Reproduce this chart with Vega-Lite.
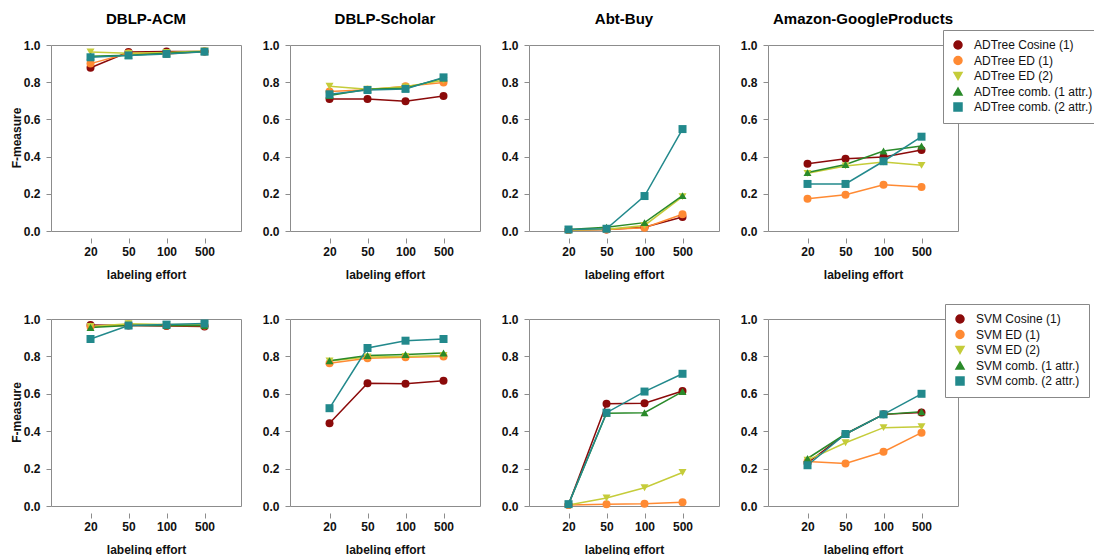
{
  "$schema": "https://vega.github.io/schema/vega-lite/v6.json",
  "background": "white",
  "padding": {"left": 10, "top": 12, "right": 0, "bottom": 0},
  "config": {
    "font": "Liberation Sans",
    "view": {"stroke": "#8c8c8c", "strokeWidth": 1},
    "axis": {"grid": false, "domain": false, "tickColor": "#8c8c8c", "tickSize": 5, "labelFont": "Liberation Sans", "labelFontWeight": "bold", "labelFontSize": 12, "labelColor": "#111", "titleFont": "Liberation Sans", "titleFontWeight": "bold", "titleFontSize": 12, "titleColor": "#111"},
    "legend": {"strokeColor": "#888", "fillColor": "white", "padding": 9, "labelFont": "Liberation Sans", "labelFontSize": 12, "labelColor": "#111", "symbolSize": 64, "rowPadding": 1.5, "labelOffset": 10},
    "header": {"labelFont": "Liberation Sans", "labelColor": "#000"}
  },
  "spacing": 23,
  "resolve": {"scale": {"color": "independent", "shape": "independent"}},
  "datasets": {
    "d": [
      {"model": "ADTree", "ds": "DBLP-ACM", "method": "ADTree Cosine (1)", "effort": 20, "f": 0.878},
      {"model": "ADTree", "ds": "DBLP-ACM", "method": "ADTree Cosine (1)", "effort": 50, "f": 0.962},
      {"model": "ADTree", "ds": "DBLP-ACM", "method": "ADTree Cosine (1)", "effort": 100, "f": 0.965},
      {"model": "ADTree", "ds": "DBLP-ACM", "method": "ADTree Cosine (1)", "effort": 500, "f": 0.965},
      {"model": "ADTree", "ds": "DBLP-ACM", "method": "ADTree ED (1)", "effort": 20, "f": 0.9},
      {"model": "ADTree", "ds": "DBLP-ACM", "method": "ADTree ED (1)", "effort": 50, "f": 0.955},
      {"model": "ADTree", "ds": "DBLP-ACM", "method": "ADTree ED (1)", "effort": 100, "f": 0.952},
      {"model": "ADTree", "ds": "DBLP-ACM", "method": "ADTree ED (1)", "effort": 500, "f": 0.965},
      {"model": "ADTree", "ds": "DBLP-ACM", "method": "ADTree ED (2)", "effort": 20, "f": 0.962},
      {"model": "ADTree", "ds": "DBLP-ACM", "method": "ADTree ED (2)", "effort": 50, "f": 0.955},
      {"model": "ADTree", "ds": "DBLP-ACM", "method": "ADTree ED (2)", "effort": 100, "f": 0.96},
      {"model": "ADTree", "ds": "DBLP-ACM", "method": "ADTree ED (2)", "effort": 500, "f": 0.968},
      {"model": "ADTree", "ds": "DBLP-ACM", "method": "ADTree comb. (1 attr.)", "effort": 20, "f": 0.94},
      {"model": "ADTree", "ds": "DBLP-ACM", "method": "ADTree comb. (1 attr.)", "effort": 50, "f": 0.945},
      {"model": "ADTree", "ds": "DBLP-ACM", "method": "ADTree comb. (1 attr.)", "effort": 100, "f": 0.955},
      {"model": "ADTree", "ds": "DBLP-ACM", "method": "ADTree comb. (1 attr.)", "effort": 500, "f": 0.965},
      {"model": "ADTree", "ds": "DBLP-ACM", "method": "ADTree comb. (2 attr.)", "effort": 20, "f": 0.934},
      {"model": "ADTree", "ds": "DBLP-ACM", "method": "ADTree comb. (2 attr.)", "effort": 50, "f": 0.944},
      {"model": "ADTree", "ds": "DBLP-ACM", "method": "ADTree comb. (2 attr.)", "effort": 100, "f": 0.952},
      {"model": "ADTree", "ds": "DBLP-ACM", "method": "ADTree comb. (2 attr.)", "effort": 500, "f": 0.964},

      {"model": "ADTree", "ds": "DBLP-Scholar", "method": "ADTree Cosine (1)", "effort": 20, "f": 0.71},
      {"model": "ADTree", "ds": "DBLP-Scholar", "method": "ADTree Cosine (1)", "effort": 50, "f": 0.71},
      {"model": "ADTree", "ds": "DBLP-Scholar", "method": "ADTree Cosine (1)", "effort": 100, "f": 0.697},
      {"model": "ADTree", "ds": "DBLP-Scholar", "method": "ADTree Cosine (1)", "effort": 500, "f": 0.726},
      {"model": "ADTree", "ds": "DBLP-Scholar", "method": "ADTree ED (1)", "effort": 20, "f": 0.75},
      {"model": "ADTree", "ds": "DBLP-Scholar", "method": "ADTree ED (1)", "effort": 50, "f": 0.76},
      {"model": "ADTree", "ds": "DBLP-Scholar", "method": "ADTree ED (1)", "effort": 100, "f": 0.778},
      {"model": "ADTree", "ds": "DBLP-Scholar", "method": "ADTree ED (1)", "effort": 500, "f": 0.798},
      {"model": "ADTree", "ds": "DBLP-Scholar", "method": "ADTree ED (2)", "effort": 20, "f": 0.778},
      {"model": "ADTree", "ds": "DBLP-Scholar", "method": "ADTree ED (2)", "effort": 50, "f": 0.762},
      {"model": "ADTree", "ds": "DBLP-Scholar", "method": "ADTree ED (2)", "effort": 100, "f": 0.775},
      {"model": "ADTree", "ds": "DBLP-Scholar", "method": "ADTree ED (2)", "effort": 500, "f": 0.81},
      {"model": "ADTree", "ds": "DBLP-Scholar", "method": "ADTree comb. (1 attr.)", "effort": 20, "f": 0.728},
      {"model": "ADTree", "ds": "DBLP-Scholar", "method": "ADTree comb. (1 attr.)", "effort": 50, "f": 0.762},
      {"model": "ADTree", "ds": "DBLP-Scholar", "method": "ADTree comb. (1 attr.)", "effort": 100, "f": 0.768},
      {"model": "ADTree", "ds": "DBLP-Scholar", "method": "ADTree comb. (1 attr.)", "effort": 500, "f": 0.822},
      {"model": "ADTree", "ds": "DBLP-Scholar", "method": "ADTree comb. (2 attr.)", "effort": 20, "f": 0.735},
      {"model": "ADTree", "ds": "DBLP-Scholar", "method": "ADTree comb. (2 attr.)", "effort": 50, "f": 0.758},
      {"model": "ADTree", "ds": "DBLP-Scholar", "method": "ADTree comb. (2 attr.)", "effort": 100, "f": 0.764},
      {"model": "ADTree", "ds": "DBLP-Scholar", "method": "ADTree comb. (2 attr.)", "effort": 500, "f": 0.826},

      {"model": "ADTree", "ds": "Abt-Buy", "method": "ADTree Cosine (1)", "effort": 20, "f": 0.005},
      {"model": "ADTree", "ds": "Abt-Buy", "method": "ADTree Cosine (1)", "effort": 50, "f": 0.008},
      {"model": "ADTree", "ds": "Abt-Buy", "method": "ADTree Cosine (1)", "effort": 100, "f": 0.02},
      {"model": "ADTree", "ds": "Abt-Buy", "method": "ADTree Cosine (1)", "effort": 500, "f": 0.075},
      {"model": "ADTree", "ds": "Abt-Buy", "method": "ADTree ED (1)", "effort": 20, "f": 0.005},
      {"model": "ADTree", "ds": "Abt-Buy", "method": "ADTree ED (1)", "effort": 50, "f": 0.008},
      {"model": "ADTree", "ds": "Abt-Buy", "method": "ADTree ED (1)", "effort": 100, "f": 0.018},
      {"model": "ADTree", "ds": "Abt-Buy", "method": "ADTree ED (1)", "effort": 500, "f": 0.09},
      {"model": "ADTree", "ds": "Abt-Buy", "method": "ADTree ED (2)", "effort": 20, "f": 0.005},
      {"model": "ADTree", "ds": "Abt-Buy", "method": "ADTree ED (2)", "effort": 50, "f": 0.01},
      {"model": "ADTree", "ds": "Abt-Buy", "method": "ADTree ED (2)", "effort": 100, "f": 0.03},
      {"model": "ADTree", "ds": "Abt-Buy", "method": "ADTree ED (2)", "effort": 500, "f": 0.185},
      {"model": "ADTree", "ds": "Abt-Buy", "method": "ADTree comb. (1 attr.)", "effort": 20, "f": 0.008},
      {"model": "ADTree", "ds": "Abt-Buy", "method": "ADTree comb. (1 attr.)", "effort": 50, "f": 0.02},
      {"model": "ADTree", "ds": "Abt-Buy", "method": "ADTree comb. (1 attr.)", "effort": 100, "f": 0.045},
      {"model": "ADTree", "ds": "Abt-Buy", "method": "ADTree comb. (1 attr.)", "effort": 500, "f": 0.19},
      {"model": "ADTree", "ds": "Abt-Buy", "method": "ADTree comb. (2 attr.)", "effort": 20, "f": 0.008},
      {"model": "ADTree", "ds": "Abt-Buy", "method": "ADTree comb. (2 attr.)", "effort": 50, "f": 0.012},
      {"model": "ADTree", "ds": "Abt-Buy", "method": "ADTree comb. (2 attr.)", "effort": 100, "f": 0.188},
      {"model": "ADTree", "ds": "Abt-Buy", "method": "ADTree comb. (2 attr.)", "effort": 500, "f": 0.548},

      {"model": "ADTree", "ds": "Amazon-GoogleProducts", "method": "ADTree Cosine (1)", "effort": 20, "f": 0.362},
      {"model": "ADTree", "ds": "Amazon-GoogleProducts", "method": "ADTree Cosine (1)", "effort": 50, "f": 0.389},
      {"model": "ADTree", "ds": "Amazon-GoogleProducts", "method": "ADTree Cosine (1)", "effort": 100, "f": 0.398},
      {"model": "ADTree", "ds": "Amazon-GoogleProducts", "method": "ADTree Cosine (1)", "effort": 500, "f": 0.435},
      {"model": "ADTree", "ds": "Amazon-GoogleProducts", "method": "ADTree ED (1)", "effort": 20, "f": 0.174},
      {"model": "ADTree", "ds": "Amazon-GoogleProducts", "method": "ADTree ED (1)", "effort": 50, "f": 0.195},
      {"model": "ADTree", "ds": "Amazon-GoogleProducts", "method": "ADTree ED (1)", "effort": 100, "f": 0.249},
      {"model": "ADTree", "ds": "Amazon-GoogleProducts", "method": "ADTree ED (1)", "effort": 500, "f": 0.237},
      {"model": "ADTree", "ds": "Amazon-GoogleProducts", "method": "ADTree ED (2)", "effort": 20, "f": 0.31},
      {"model": "ADTree", "ds": "Amazon-GoogleProducts", "method": "ADTree ED (2)", "effort": 50, "f": 0.35},
      {"model": "ADTree", "ds": "Amazon-GoogleProducts", "method": "ADTree ED (2)", "effort": 100, "f": 0.371},
      {"model": "ADTree", "ds": "Amazon-GoogleProducts", "method": "ADTree ED (2)", "effort": 500, "f": 0.353},
      {"model": "ADTree", "ds": "Amazon-GoogleProducts", "method": "ADTree comb. (1 attr.)", "effort": 20, "f": 0.314},
      {"model": "ADTree", "ds": "Amazon-GoogleProducts", "method": "ADTree comb. (1 attr.)", "effort": 50, "f": 0.358},
      {"model": "ADTree", "ds": "Amazon-GoogleProducts", "method": "ADTree comb. (1 attr.)", "effort": 100, "f": 0.43},
      {"model": "ADTree", "ds": "Amazon-GoogleProducts", "method": "ADTree comb. (1 attr.)", "effort": 500, "f": 0.457},
      {"model": "ADTree", "ds": "Amazon-GoogleProducts", "method": "ADTree comb. (2 attr.)", "effort": 20, "f": 0.253},
      {"model": "ADTree", "ds": "Amazon-GoogleProducts", "method": "ADTree comb. (2 attr.)", "effort": 50, "f": 0.253},
      {"model": "ADTree", "ds": "Amazon-GoogleProducts", "method": "ADTree comb. (2 attr.)", "effort": 100, "f": 0.375},
      {"model": "ADTree", "ds": "Amazon-GoogleProducts", "method": "ADTree comb. (2 attr.)", "effort": 500, "f": 0.507},

      {"model": "SVM", "ds": "DBLP-ACM", "method": "SVM Cosine (1)", "effort": 20, "f": 0.968},
      {"model": "SVM", "ds": "DBLP-ACM", "method": "SVM Cosine (1)", "effort": 50, "f": 0.965},
      {"model": "SVM", "ds": "DBLP-ACM", "method": "SVM Cosine (1)", "effort": 100, "f": 0.963},
      {"model": "SVM", "ds": "DBLP-ACM", "method": "SVM Cosine (1)", "effort": 500, "f": 0.96},
      {"model": "SVM", "ds": "DBLP-ACM", "method": "SVM ED (1)", "effort": 20, "f": 0.958},
      {"model": "SVM", "ds": "DBLP-ACM", "method": "SVM ED (1)", "effort": 50, "f": 0.97},
      {"model": "SVM", "ds": "DBLP-ACM", "method": "SVM ED (1)", "effort": 100, "f": 0.965},
      {"model": "SVM", "ds": "DBLP-ACM", "method": "SVM ED (1)", "effort": 500, "f": 0.965},
      {"model": "SVM", "ds": "DBLP-ACM", "method": "SVM ED (2)", "effort": 20, "f": 0.96},
      {"model": "SVM", "ds": "DBLP-ACM", "method": "SVM ED (2)", "effort": 50, "f": 0.975},
      {"model": "SVM", "ds": "DBLP-ACM", "method": "SVM ED (2)", "effort": 100, "f": 0.97},
      {"model": "SVM", "ds": "DBLP-ACM", "method": "SVM ED (2)", "effort": 500, "f": 0.97},
      {"model": "SVM", "ds": "DBLP-ACM", "method": "SVM comb. (1 attr.)", "effort": 20, "f": 0.955},
      {"model": "SVM", "ds": "DBLP-ACM", "method": "SVM comb. (1 attr.)", "effort": 50, "f": 0.965},
      {"model": "SVM", "ds": "DBLP-ACM", "method": "SVM comb. (1 attr.)", "effort": 100, "f": 0.965},
      {"model": "SVM", "ds": "DBLP-ACM", "method": "SVM comb. (1 attr.)", "effort": 500, "f": 0.965},
      {"model": "SVM", "ds": "DBLP-ACM", "method": "SVM comb. (2 attr.)", "effort": 20, "f": 0.893},
      {"model": "SVM", "ds": "DBLP-ACM", "method": "SVM comb. (2 attr.)", "effort": 50, "f": 0.965},
      {"model": "SVM", "ds": "DBLP-ACM", "method": "SVM comb. (2 attr.)", "effort": 100, "f": 0.97},
      {"model": "SVM", "ds": "DBLP-ACM", "method": "SVM comb. (2 attr.)", "effort": 500, "f": 0.976},

      {"model": "SVM", "ds": "DBLP-Scholar", "method": "SVM Cosine (1)", "effort": 20, "f": 0.443},
      {"model": "SVM", "ds": "DBLP-Scholar", "method": "SVM Cosine (1)", "effort": 50, "f": 0.657},
      {"model": "SVM", "ds": "DBLP-Scholar", "method": "SVM Cosine (1)", "effort": 100, "f": 0.654},
      {"model": "SVM", "ds": "DBLP-Scholar", "method": "SVM Cosine (1)", "effort": 500, "f": 0.67},
      {"model": "SVM", "ds": "DBLP-Scholar", "method": "SVM ED (1)", "effort": 20, "f": 0.764},
      {"model": "SVM", "ds": "DBLP-Scholar", "method": "SVM ED (1)", "effort": 50, "f": 0.79},
      {"model": "SVM", "ds": "DBLP-Scholar", "method": "SVM ED (1)", "effort": 100, "f": 0.795},
      {"model": "SVM", "ds": "DBLP-Scholar", "method": "SVM ED (1)", "effort": 500, "f": 0.8},
      {"model": "SVM", "ds": "DBLP-Scholar", "method": "SVM ED (2)", "effort": 20, "f": 0.775},
      {"model": "SVM", "ds": "DBLP-Scholar", "method": "SVM ED (2)", "effort": 50, "f": 0.797},
      {"model": "SVM", "ds": "DBLP-Scholar", "method": "SVM ED (2)", "effort": 100, "f": 0.8},
      {"model": "SVM", "ds": "DBLP-Scholar", "method": "SVM ED (2)", "effort": 500, "f": 0.805},
      {"model": "SVM", "ds": "DBLP-Scholar", "method": "SVM comb. (1 attr.)", "effort": 20, "f": 0.777},
      {"model": "SVM", "ds": "DBLP-Scholar", "method": "SVM comb. (1 attr.)", "effort": 50, "f": 0.805},
      {"model": "SVM", "ds": "DBLP-Scholar", "method": "SVM comb. (1 attr.)", "effort": 100, "f": 0.81},
      {"model": "SVM", "ds": "DBLP-Scholar", "method": "SVM comb. (1 attr.)", "effort": 500, "f": 0.818},
      {"model": "SVM", "ds": "DBLP-Scholar", "method": "SVM comb. (2 attr.)", "effort": 20, "f": 0.523},
      {"model": "SVM", "ds": "DBLP-Scholar", "method": "SVM comb. (2 attr.)", "effort": 50, "f": 0.845},
      {"model": "SVM", "ds": "DBLP-Scholar", "method": "SVM comb. (2 attr.)", "effort": 100, "f": 0.884},
      {"model": "SVM", "ds": "DBLP-Scholar", "method": "SVM comb. (2 attr.)", "effort": 500, "f": 0.893},

      {"model": "SVM", "ds": "Abt-Buy", "method": "SVM Cosine (1)", "effort": 20, "f": 0.007},
      {"model": "SVM", "ds": "Abt-Buy", "method": "SVM Cosine (1)", "effort": 50, "f": 0.547},
      {"model": "SVM", "ds": "Abt-Buy", "method": "SVM Cosine (1)", "effort": 100, "f": 0.549},
      {"model": "SVM", "ds": "Abt-Buy", "method": "SVM Cosine (1)", "effort": 500, "f": 0.615},
      {"model": "SVM", "ds": "Abt-Buy", "method": "SVM ED (1)", "effort": 20, "f": 0.005},
      {"model": "SVM", "ds": "Abt-Buy", "method": "SVM ED (1)", "effort": 50, "f": 0.009},
      {"model": "SVM", "ds": "Abt-Buy", "method": "SVM ED (1)", "effort": 100, "f": 0.012},
      {"model": "SVM", "ds": "Abt-Buy", "method": "SVM ED (1)", "effort": 500, "f": 0.02},
      {"model": "SVM", "ds": "Abt-Buy", "method": "SVM ED (2)", "effort": 20, "f": 0.005},
      {"model": "SVM", "ds": "Abt-Buy", "method": "SVM ED (2)", "effort": 50, "f": 0.043},
      {"model": "SVM", "ds": "Abt-Buy", "method": "SVM ED (2)", "effort": 100, "f": 0.098},
      {"model": "SVM", "ds": "Abt-Buy", "method": "SVM ED (2)", "effort": 500, "f": 0.179},
      {"model": "SVM", "ds": "Abt-Buy", "method": "SVM comb. (1 attr.)", "effort": 20, "f": 0.01},
      {"model": "SVM", "ds": "Abt-Buy", "method": "SVM comb. (1 attr.)", "effort": 50, "f": 0.496},
      {"model": "SVM", "ds": "Abt-Buy", "method": "SVM comb. (1 attr.)", "effort": 100, "f": 0.499},
      {"model": "SVM", "ds": "Abt-Buy", "method": "SVM comb. (1 attr.)", "effort": 500, "f": 0.612},
      {"model": "SVM", "ds": "Abt-Buy", "method": "SVM comb. (2 attr.)", "effort": 20, "f": 0.01},
      {"model": "SVM", "ds": "Abt-Buy", "method": "SVM comb. (2 attr.)", "effort": 50, "f": 0.499},
      {"model": "SVM", "ds": "Abt-Buy", "method": "SVM comb. (2 attr.)", "effort": 100, "f": 0.612},
      {"model": "SVM", "ds": "Abt-Buy", "method": "SVM comb. (2 attr.)", "effort": 500, "f": 0.707},

      {"model": "SVM", "ds": "Amazon-GoogleProducts", "method": "SVM Cosine (1)", "effort": 20, "f": 0.23},
      {"model": "SVM", "ds": "Amazon-GoogleProducts", "method": "SVM Cosine (1)", "effort": 50, "f": 0.385},
      {"model": "SVM", "ds": "Amazon-GoogleProducts", "method": "SVM Cosine (1)", "effort": 100, "f": 0.49},
      {"model": "SVM", "ds": "Amazon-GoogleProducts", "method": "SVM Cosine (1)", "effort": 500, "f": 0.5},
      {"model": "SVM", "ds": "Amazon-GoogleProducts", "method": "SVM ED (1)", "effort": 20, "f": 0.238},
      {"model": "SVM", "ds": "Amazon-GoogleProducts", "method": "SVM ED (1)", "effort": 50, "f": 0.227},
      {"model": "SVM", "ds": "Amazon-GoogleProducts", "method": "SVM ED (1)", "effort": 100, "f": 0.29},
      {"model": "SVM", "ds": "Amazon-GoogleProducts", "method": "SVM ED (1)", "effort": 500, "f": 0.392},
      {"model": "SVM", "ds": "Amazon-GoogleProducts", "method": "SVM ED (2)", "effort": 20, "f": 0.245},
      {"model": "SVM", "ds": "Amazon-GoogleProducts", "method": "SVM ED (2)", "effort": 50, "f": 0.338},
      {"model": "SVM", "ds": "Amazon-GoogleProducts", "method": "SVM ED (2)", "effort": 100, "f": 0.419},
      {"model": "SVM", "ds": "Amazon-GoogleProducts", "method": "SVM ED (2)", "effort": 500, "f": 0.424},
      {"model": "SVM", "ds": "Amazon-GoogleProducts", "method": "SVM comb. (1 attr.)", "effort": 20, "f": 0.254},
      {"model": "SVM", "ds": "Amazon-GoogleProducts", "method": "SVM comb. (1 attr.)", "effort": 50, "f": 0.385},
      {"model": "SVM", "ds": "Amazon-GoogleProducts", "method": "SVM comb. (1 attr.)", "effort": 100, "f": 0.49},
      {"model": "SVM", "ds": "Amazon-GoogleProducts", "method": "SVM comb. (1 attr.)", "effort": 500, "f": 0.504},
      {"model": "SVM", "ds": "Amazon-GoogleProducts", "method": "SVM comb. (2 attr.)", "effort": 20, "f": 0.218},
      {"model": "SVM", "ds": "Amazon-GoogleProducts", "method": "SVM comb. (2 attr.)", "effort": 50, "f": 0.385},
      {"model": "SVM", "ds": "Amazon-GoogleProducts", "method": "SVM comb. (2 attr.)", "effort": 100, "f": 0.49},
      {"model": "SVM", "ds": "Amazon-GoogleProducts", "method": "SVM comb. (2 attr.)", "effort": 500, "f": 0.6}
    ]
  },
  "vconcat": [
    {
      "data": {"name": "d"},
      "transform": [{"filter": "datum.model == 'ADTree'"}],
      "facet": {
        "column": {"field": "ds", "sort": ["DBLP-ACM", "DBLP-Scholar", "Abt-Buy", "Amazon-GoogleProducts"], "title": null,
          "header": {"labelFontSize": 15, "labelFontWeight": "bold", "labelPadding": 11}},
        "row": {"field": "model", "title": null,
          "header": {"labelExpr": "'F-measure'", "labelAngle": -90, "labelFontSize": 12, "labelFontWeight": "bold", "labelPadding": -7, "labelColor": "#111"}}
      },
      "spacing": {"column": 19},
      "resolve": {"axis": {"y": "independent"}},
      "spec": {
        "width": 190,
        "height": 186,
        "encoding": {
          "x": {"field": "effort", "type": "ordinal", "scale": {"type": "point", "padding": 1.02, "align": 0.52},
            "axis": {"title": "labeling effort", "labelAngle": 0, "labelPadding": 3, "titlePadding": 12}},
          "y": {"field": "f", "type": "quantitative", "scale": {"domain": [0, 1], "nice": false},
            "axis": {"title": null, "values": [0, 0.2, 0.4, 0.6, 0.8, 1], "format": ".1f", "labelPadding": 6}},
          "color": {"field": "method", "type": "nominal",
            "scale": {"domain": ["ADTree Cosine (1)", "ADTree ED (1)", "ADTree ED (2)", "ADTree comb. (1 attr.)", "ADTree comb. (2 attr.)"],
              "range": ["#8b0a0a", "#ff8a33", "#c5cc3a", "#2a8a2a", "#22898c"]},
            "legend": {"title": null, "orient": "none", "legendX": 892, "legendY": -15}}
        },
        "layer": [
          {"mark": {"type": "line", "strokeWidth": 1.5}},
          {"mark": {"type": "point", "filled": true, "size": 64, "opacity": 1},
            "encoding": {"shape": {"field": "method", "type": "nominal",
              "scale": {"domain": ["ADTree Cosine (1)", "ADTree ED (1)", "ADTree ED (2)", "ADTree comb. (1 attr.)", "ADTree comb. (2 attr.)"],
                "range": ["circle", "circle", "triangle-down", "triangle-up", "square"]},
              "legend": {"title": null, "orient": "none", "legendX": 892, "legendY": -15}}}}
        ]
      }
    },
    {
      "data": {"name": "d"},
      "transform": [{"filter": "datum.model == 'SVM'"}],
      "facet": {
        "column": {"field": "ds", "sort": ["DBLP-ACM", "DBLP-Scholar", "Abt-Buy", "Amazon-GoogleProducts"], "title": null,
          "header": {"labels": false}},
        "row": {"field": "model", "title": null,
          "header": {"labelExpr": "'F-measure'", "labelAngle": -90, "labelFontSize": 12, "labelFontWeight": "bold", "labelPadding": -7, "labelColor": "#111"}}
      },
      "spacing": {"column": 19},
      "resolve": {"axis": {"y": "independent"}},
      "spec": {
        "width": 190,
        "height": 187,
        "encoding": {
          "x": {"field": "effort", "type": "ordinal", "scale": {"type": "point", "padding": 1.02, "align": 0.52},
            "axis": {"title": "labeling effort", "labelAngle": 0, "labelPadding": 3, "titlePadding": 12}},
          "y": {"field": "f", "type": "quantitative", "scale": {"domain": [0, 1], "nice": false},
            "axis": {"title": null, "values": [0, 0.2, 0.4, 0.6, 0.8, 1], "format": ".1f", "labelPadding": 6}},
          "color": {"field": "method", "type": "nominal",
            "scale": {"domain": ["SVM Cosine (1)", "SVM ED (1)", "SVM ED (2)", "SVM comb. (1 attr.)", "SVM comb. (2 attr.)"],
              "range": ["#8b0a0a", "#ff8a33", "#c5cc3a", "#2a8a2a", "#22898c"]},
            "legend": {"title": null, "orient": "none", "legendX": 894, "legendY": -15}}
        },
        "layer": [
          {"mark": {"type": "line", "strokeWidth": 1.5}},
          {"mark": {"type": "point", "filled": true, "size": 64, "opacity": 1},
            "encoding": {"shape": {"field": "method", "type": "nominal",
              "scale": {"domain": ["SVM Cosine (1)", "SVM ED (1)", "SVM ED (2)", "SVM comb. (1 attr.)", "SVM comb. (2 attr.)"],
                "range": ["circle", "circle", "triangle-down", "triangle-up", "square"]},
              "legend": {"title": null, "orient": "none", "legendX": 894, "legendY": -15}}}}
        ]
      }
    }
  ]
}
